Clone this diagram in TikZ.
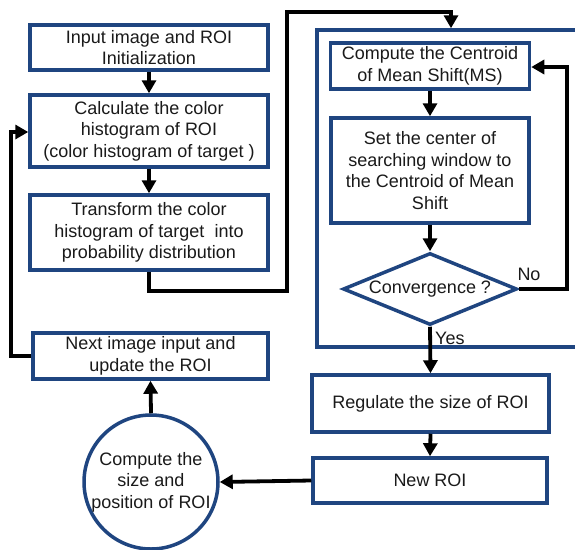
\documentclass[tikz,border=0pt]{standalone}
\usepackage{fontspec}
\setmainfont{Liberation Sans}
\usetikzlibrary{shapes.geometric,arrows.meta}
\definecolor{boxblue}{HTML}{1F4580}
\definecolor{txt}{HTML}{1A1A1A}
\tikzset{
  box/.style={draw=boxblue, line width=3.5pt, fill=white, rectangle, inner sep=0pt, align=center, text=txt,
              font=\fontsize{18}{21.5}\selectfont},
  conn/.style={draw=black, line width=3.8pt, -{Triangle[length=13pt,width=14pt]}},
  lbl/.style={text=txt, font=\fontsize{18}{21.5}\selectfont, inner sep=0pt}
}
\begin{document}
\begin{tikzpicture}[x=1pt,y=-1pt]
\clip (0,0) rectangle (575,549);
\fill[white] (0,0) rectangle (575,549);
% outer frame (right side cut off)
\node[draw=boxblue, line width=3.5pt, rectangle, inner sep=0pt, minimum width=265pt, minimum height=317pt] (outer) at (449.5,188.5) {};
% left column
\node[box, minimum width=238pt, minimum height=45pt] (in) at (149,47.5) {Input image and ROI\\Initialization};
\node[box, minimum width=238pt, minimum height=72pt] (calc) at (149,131) {Calculate the color\\histogram of ROI\\(color histogram of target )};
\node[box, minimum width=238pt, minimum height=75pt] (trans) at (149,232.5) {Transform the color\\histogram of target\ \ into\\probability distribution};
\node[box, minimum width=235pt, minimum height=46pt] (next) at (150.5,356) {Next image input and\\update the ROI};
\node[box, circle, minimum size=134pt] (circ) at (151,482) {Compute the\\size and\\position of ROI};
% right column
\node[box, minimum width=199pt, minimum height=46pt] (cent) at (430,66) {Compute the Centroid\\of Mean Shift(MS)};
\node[box, minimum width=198pt, minimum height=105pt] (set) at (430,170.5) {Set the center of\\searching window to\\the Centroid of Mean\\Shift};
\node[box, diamond, aspect=2.42, minimum width=174pt, minimum height=72pt] (dia) at (430,289) {Convergence ?};
\node[box, minimum width=237pt, minimum height=57pt] (reg) at (430.5,403.5) {Regulate the size of ROI};
\node[box, minimum width=234pt, minimum height=45pt] (new) at (430,480.5) {New ROI};
% helper coordinates
\coordinate (t1) at (149,291);
\coordinate (t2) at (287,291);
\coordinate (t3) at (287,12);
\coordinate (t4) at (451,12);
\coordinate (n1) at (567,289);
\coordinate (n2) at (567,67);
\coordinate (l1) at (11,356);
\coordinate (l2) at (11,132);
% connectors
\draw[conn] (in.south) -- (calc.north);
\draw[conn] (calc.south) -- (trans.north);
\draw[conn] (trans.south) -- (t1) -- (t2) -- (t3) -- (t4) -- (t4 |- outer.north);
\draw[conn] (cent.south) -- (set.north);
\draw[conn] (set.south) -- (dia.north);
\draw[conn] (dia.east) -- (n1) -- (n2) -- (cent.east |- n2);
\draw[conn] (dia.south) -- (reg.north);
\draw[conn] (reg.south) -- (new.north);
\draw[conn] (new.west) -- (circ.east);
\draw[conn] (circ.north) -- (next.south);
\draw[conn] (next.west) -- (l1) -- (l2) -- (calc.west |- l2);
% labels
\node[lbl] (no) at (529,274) {No};
\node[lbl, anchor=west] (yes) at (435,338) {Yes};
\end{tikzpicture}
\end{document}
